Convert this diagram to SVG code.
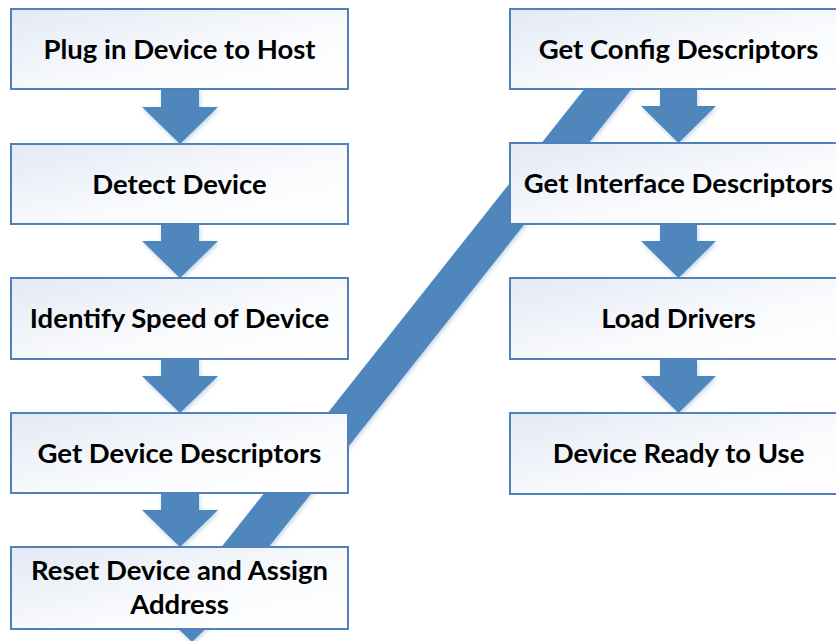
<svg xmlns="http://www.w3.org/2000/svg" width="836" height="641" viewBox="0 0 836 641">
  <defs>
    <linearGradient id="boxFill" x1="0" y1="0" x2="1" y2="1">
      <stop offset="0" stop-color="#E3E9F4"/>
      <stop offset="0.6" stop-color="#FAFBFD"/>
      <stop offset="1" stop-color="#FFFFFF"/>
    </linearGradient>
    <filter id="soft" x="-20%" y="-20%" width="140%" height="140%">
      <feGaussianBlur in="SourceAlpha" stdDeviation="2"/>
      <feOffset dx="1" dy="2" result="b"/>
      <feFlood flood-color="#4F81BD" flood-opacity="0.35"/>
      <feComposite in2="b" operator="in"/>
      <feMerge>
        <feMergeNode/>
        <feMergeNode in="SourceGraphic"/>
      </feMerge>
    </filter>
  </defs>
  <style>
    .box { fill: url(#boxFill); stroke: #4F81BD; stroke-width: 2; }
    .arrow { fill: #4F86BC; filter: url(#soft); }
    .band { stroke: #4F86BC; stroke-width: 37; fill: none; filter: url(#soft); }
    .label { font-family: Lato, "Open Sans", "Liberation Sans", sans-serif; font-weight: bold; font-size: 27.5px; fill: #000; text-anchor: middle; }
  </style>

  <rect width="836" height="641" fill="#FFFFFF"/>

  <!-- connectors -->
  <g id="connectors">
    <!-- long diagonal link from the left column to the right column -->
    <line class="band" x1="631" y1="60" x2="219" y2="580"/>
    <!-- left column arrows -->
    <polygon class="arrow" points="161,89 199,89 199,107 218,107 180,144 142,107 161,107"/>
    <polygon class="arrow" points="161,224 199,224 199,241 218,241 180,278 142,241 161,241"/>
    <polygon class="arrow" points="161,359 199,359 199,376 218,376 180,413 142,376 161,376"/>
    <polygon class="arrow" points="161,493 199,493 199,510 218,510 180,547 142,510 161,510"/>
    <polygon class="arrow" points="154,605 230,605 192,642"/>
    <!-- right column arrows -->
    <polygon class="arrow" points="660,89 697,89 697,106 716,106 678.5,143 641,106 660,106"/>
    <polygon class="arrow" points="660,224 697,224 697,241 716,241 678.5,278 641,241 660,241"/>
    <polygon class="arrow" points="660,359 697,359 697,376 716,376 678.5,413 641,376 660,376"/>
  </g>

  <!-- left column -->
  <g id="plug-in">
    <rect class="box" x="11" y="9" width="337" height="80"/>
    <text class="label" x="179.5" y="59">Plug in Device to Host</text>
  </g>
  <g id="detect">
    <rect class="box" x="11" y="144" width="337" height="80"/>
    <text class="label" x="179.5" y="194">Detect Device</text>
  </g>
  <g id="identify-speed">
    <rect class="box" x="11" y="278" width="337" height="81"/>
    <text class="label" x="179.5" y="328">Identify Speed of Device</text>
  </g>
  <g id="device-descriptors">
    <rect class="box" x="11" y="413" width="337" height="80"/>
    <text class="label" x="179.5" y="463">Get Device Descriptors</text>
  </g>
  <g id="reset-address">
    <rect class="box" x="11" y="547" width="337" height="82"/>
    <text class="label" x="179.5" y="580">Reset Device and Assign</text>
    <text class="label" x="179.5" y="614">Address</text>
  </g>

  <!-- right column -->
  <g id="config-descriptors">
    <rect class="box" x="510" y="9" width="337" height="80"/>
    <text class="label" x="678.5" y="59">Get Config Descriptors</text>
  </g>
  <g id="interface-descriptors">
    <rect class="box" x="510" y="143" width="337" height="81"/>
    <text class="label" x="678.5" y="193">Get Interface Descriptors</text>
  </g>
  <g id="load-drivers">
    <rect class="box" x="510" y="278" width="337" height="81"/>
    <text class="label" x="678.5" y="328">Load Drivers</text>
  </g>
  <g id="device-ready">
    <rect class="box" x="510" y="413" width="337" height="81"/>
    <text class="label" x="678.5" y="463">Device Ready to Use</text>
  </g>
</svg>
